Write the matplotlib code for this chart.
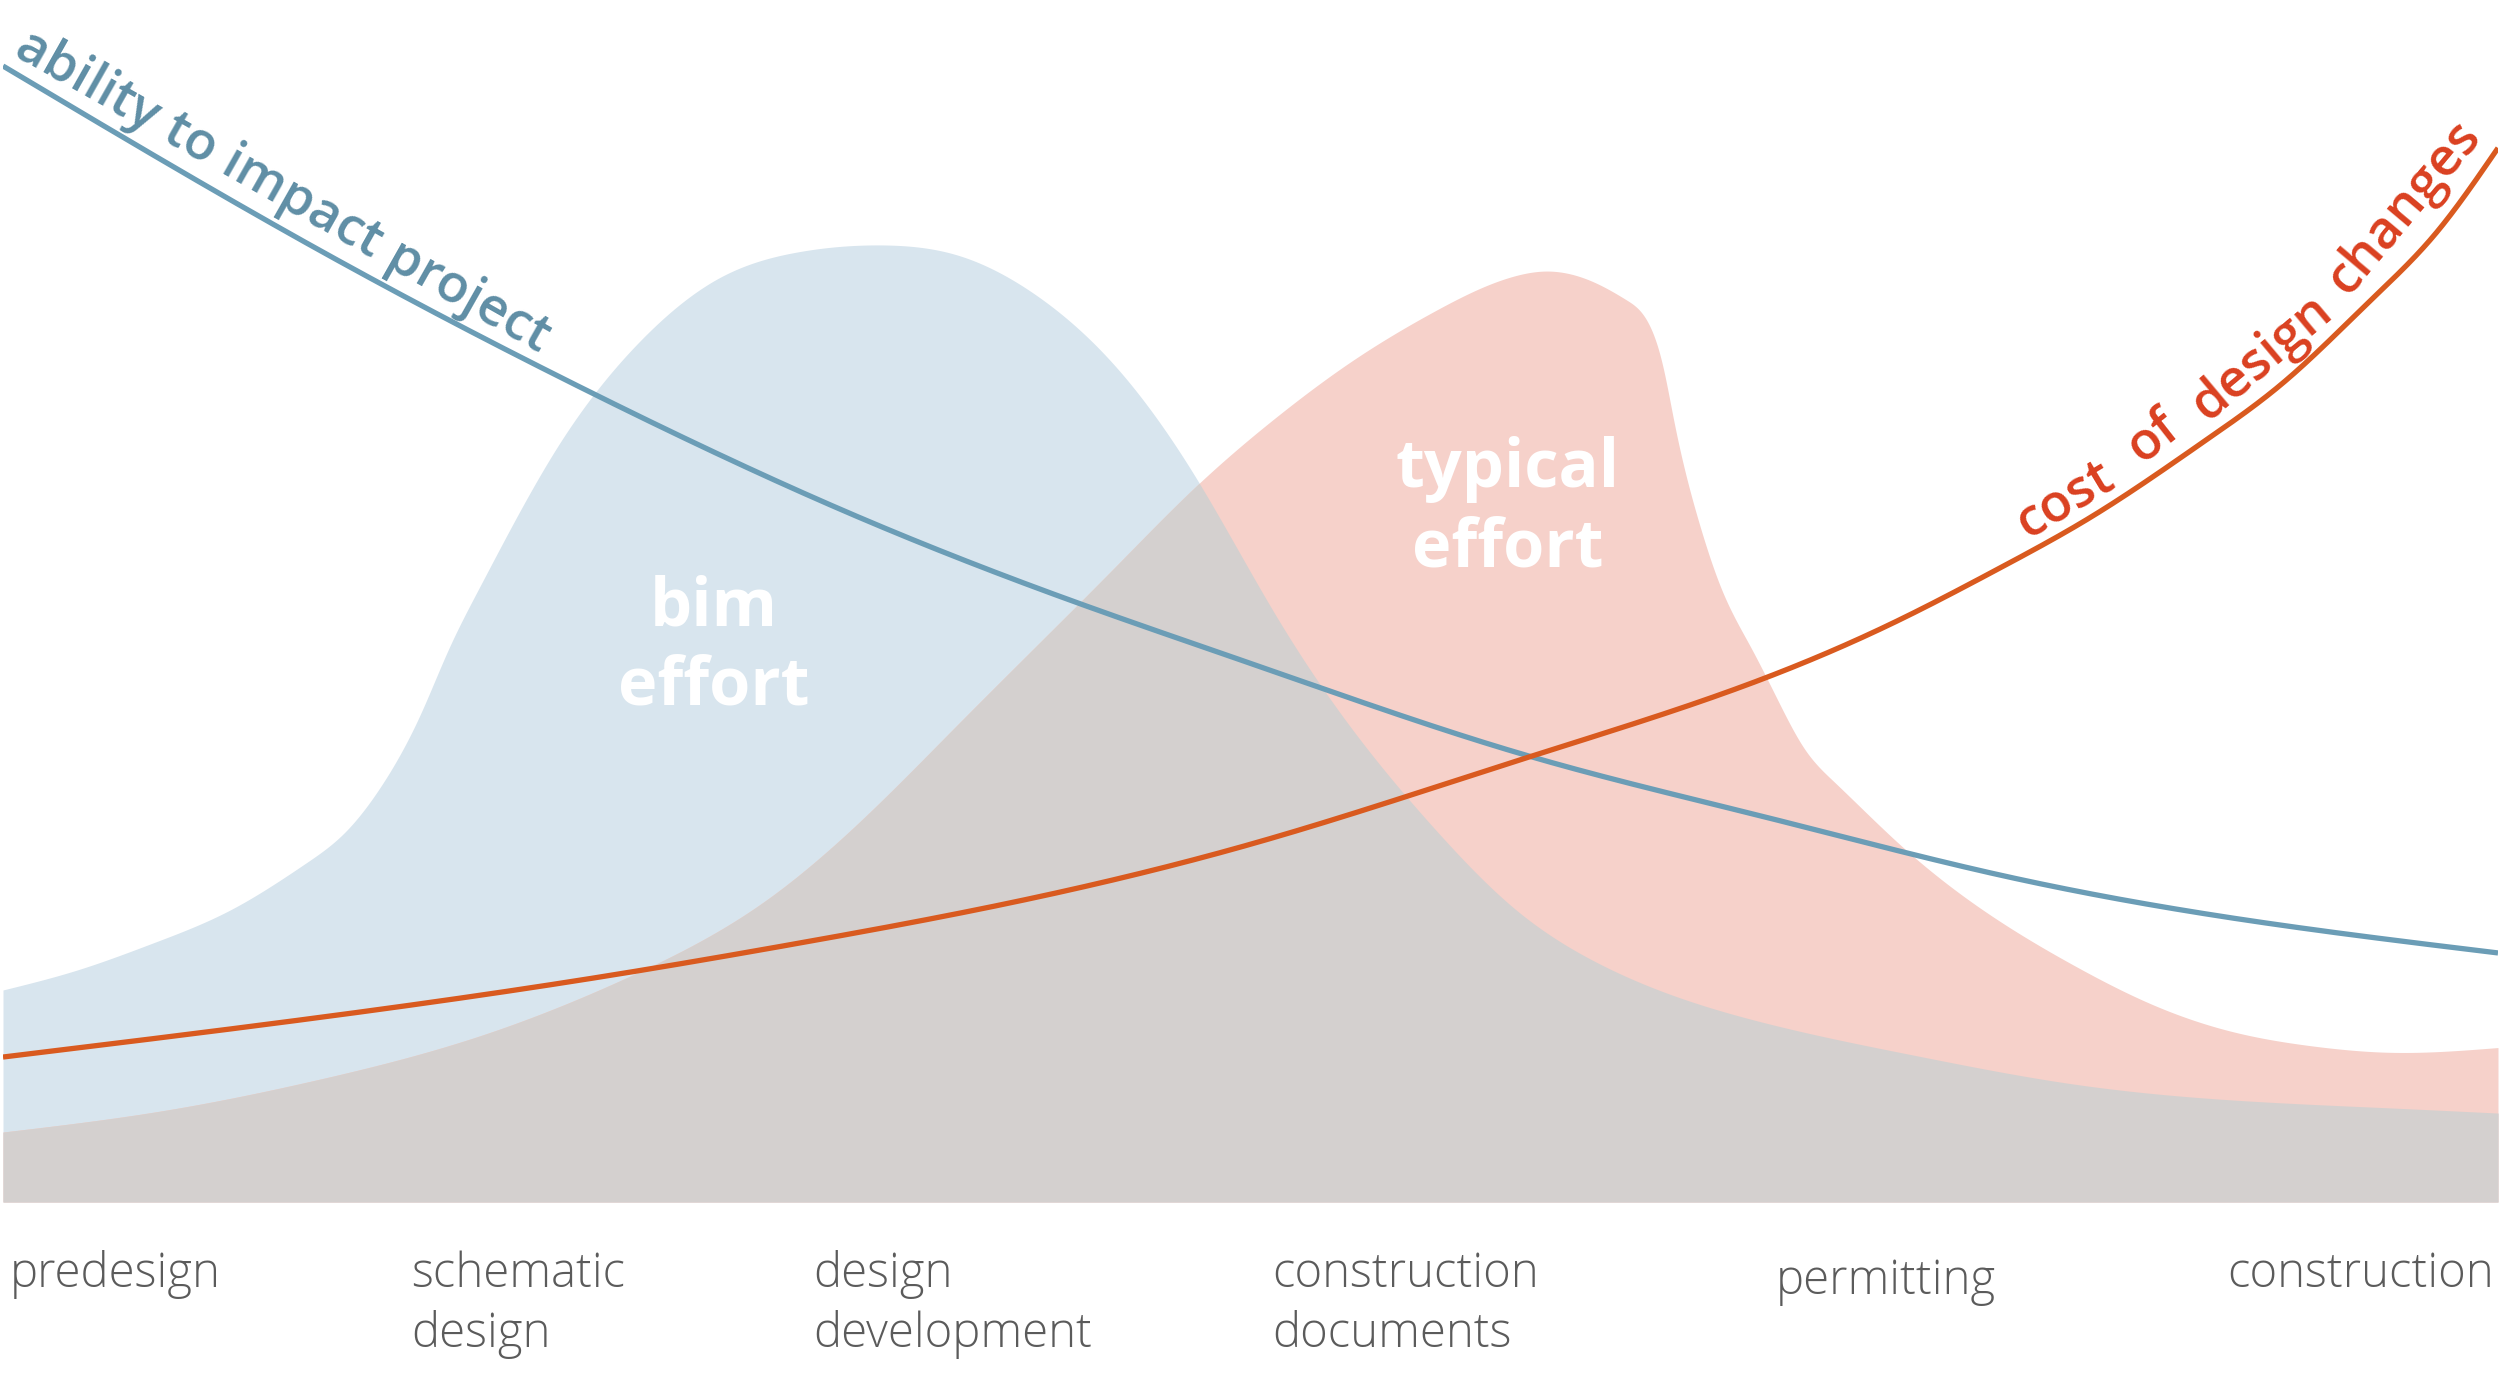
import numpy as np
import matplotlib.pyplot as plt

plt.rcParams['font.family'] = ['Open Sans', 'DejaVu Sans']

# project timeline 0..100, effort / value 0..100
bim_x = [0, 2.97, 6.01, 9.10, 12.14, 13.67, 15.23, 16.75, 17.84, 19.04, 22.24, 25.45, 28.62, 31.82,
         35.31, 38.24, 41.40, 44.61, 47.82, 50.98, 54.19, 57.39, 60.60, 63.77, 70.18, 76.55, 82.97,
         89.34, 95.75, 100]
bim_y = [17.64, 19.30, 21.55, 24.29, 28.20, 30.70, 34.86, 40.68, 45.92, 50.92, 62.90, 71.46, 76.79, 79.03,
         79.62, 78.79, 75.46, 69.47, 60.23, 48.92, 39.02, 31.03, 24.38, 20.05, 15.14, 12.23, 9.82,
         8.49, 7.82, 7.40]

typ_x = [0, 6.27, 12.66, 19.05, 25.44, 30.55, 35.03, 38.22, 41.42, 44.61, 47.81, 51.0, 54.2, 57.39,
         60.59, 61.87, 63.78, 65.06, 66.02, 66.53, 66.98, 67.94, 68.89, 70.05, 71.13, 72.22, 73.37,
         76.05, 79.76, 82.95, 86.15, 89.35, 92.54, 95.73, 100]
typ_y = [5.82, 7.55, 10.20, 13.78, 19.09, 25.06, 33.01, 39.64, 46.28, 52.91, 59.54, 65.25, 70.16, 74.13,
         77.05, 77.45, 76.52, 75.06, 72.8, 69.49, 64.85, 56.76, 50.92, 46.15, 41.76, 37.65, 35.0,
         29.7, 23.73, 19.75, 16.43, 14.18, 12.99, 12.45, 12.85]

ability_x = [0, 12.67, 23.93, 34.19, 43.09, 50.18, 61.16, 70.62, 80.04, 89.34, 100]
ability_y = [94.51, 79.20, 66.97, 57.07, 49.83, 44.68, 37.10, 32.03, 27.20, 23.63, 20.72]

cost_x = [0, 11.90, 23.93, 31.94, 39.96, 50.18, 61.16, 70.62, 75.75, 80.04, 83.69, 88.30, 91.38,
          94.91, 97.52, 100]
cost_y = [12.06, 15.14, 18.72, 21.55, 24.71, 29.87, 37.02, 43.59, 48.17, 52.75, 56.99, 63.39, 68.14,
          75.04, 80.62, 87.69]

phases = ['predesign', 'schematic\ndesign', 'design\ndevelopment',
          'construction\ndocuments', 'permitting', 'construction']
phase_x = [0.28, 16.35, 32.46, 50.86, 71.06, 99.84]


def spline(x, y, xn):
    # natural cubic spline, only used to draw smooth curves through the read points
    x = np.asarray(x, float)
    y = np.asarray(y, float)
    n = len(x)
    h = np.diff(x)
    A = np.zeros((n, n))
    b = np.zeros(n)
    A[0, 0] = A[-1, -1] = 1
    for i in range(1, n - 1):
        A[i, i - 1] = h[i - 1]
        A[i, i] = 2 * (h[i - 1] + h[i])
        A[i, i + 1] = h[i]
        b[i] = 6 * ((y[i + 1] - y[i]) / h[i] - (y[i] - y[i - 1]) / h[i - 1])
    M = np.linalg.solve(A, b)
    i = np.clip(np.searchsorted(x, xn) - 1, 0, n - 2)
    a = x[i + 1] - xn
    c = xn - x[i]
    hi = h[i]
    return (M[i] * a**3 / (6 * hi) + M[i + 1] * c**3 / (6 * hi)
            + (y[i] / hi - M[i] * hi / 6) * a + (y[i + 1] / hi - M[i + 1] * hi / 6) * c)


xs = np.linspace(0, 100, 3000)
bim = spline(bim_x, bim_y, xs)
typ = spline(typ_x, typ_y, xs)
ability = spline(ability_x, ability_y, xs)
cost = spline(cost_x, cost_y, xs)

fig = plt.figure(figsize=(25, 13.89), dpi=100)
ax = fig.add_axes([3 / 2500, 187 / 1389, 2495 / 2500, 1202 / 1389])
ax.set_xlim(0, 100)
ax.set_ylim(0, 100)
ax.axis('off')

ax.fill_between(xs, 0, bim, color='#D8E5EE', lw=0, zorder=1)
ax.fill_between(xs, 0, typ, color='#F6D1CA', lw=0, zorder=1)
ax.fill_between(xs, 0, np.minimum(bim, typ), color='#D4D0CF', lw=0, zorder=2)

ax.plot(xs, ability, color='#6B9DB6', lw=3.8, zorder=3, solid_capstyle='butt')
ax.plot(xs, cost, color='#D95A1F', lw=3.8, zorder=3, solid_capstyle='butt')

# effort labels
ax.text(28.5, 48.0, 'bim', color='white', fontsize=48, fontweight='bold', ha='center', va='baseline')
ax.text(28.5, 41.35, 'effort', color='white', fontsize=48, fontweight='bold', ha='center', va='baseline')
ax.text(60.32, 59.48, 'typical', color='white', fontsize=48, fontweight='bold', ha='center', va='baseline')
ax.text(60.32, 52.83, 'effort', color='white', fontsize=48, fontweight='bold', ha='center', va='baseline')

# line labels
ax.text(11.22, 84.03, 'ability to impact project', color='#5F8EA5', fontsize=38, fontweight='semibold',
        rotation=-29.5, rotation_mode='anchor', ha='center', va='center')
for word, wx, wy, rot in [('cost', 82.65, 58.4, 31), ('of', 86.17, 63.64, 38),
                          ('design', 90.54, 70.22, 40), ('changes', 96.23, 82.70, 50)]:
    ax.text(wx, wy, word, color='#DA4020', fontsize=38, fontweight='semibold',
            rotation=rot, rotation_mode='anchor', ha='center', va='center')

# phase labels under the timeline, one text per line
for label, px in zip(phases, phase_x):
    ha = 'right' if px > 95 else 'left'
    y0 = -7.65 if label == 'permitting' else -7.07
    for k, line in enumerate(label.split('\n')):
        ax.text(px, y0 - 4.99 * k, line, color='#5B5B5B', fontsize=34, fontweight='light',
                ha=ha, va='baseline', clip_on=False)

fig.savefig('out.png', dpi=100)
